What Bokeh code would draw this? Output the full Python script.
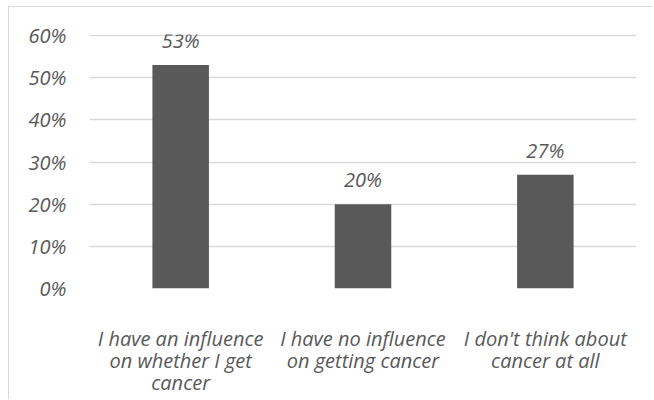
from bokeh.plotting import figure
from bokeh.models import NumeralTickFormatter, FixedTicker, Range1d, FactorRange, ColumnDataSource, LabelSet
from bokeh.core.properties import value
from bokeh.embed import file_html
from bokeh.resources import INLINE

# ---- data ----
categories = [
    "I have an influence\non whether I get\ncancer",
    "I have no influence\non getting cancer",
    "I don't think about\ncancer at all",
]
shares = [0.53, 0.20, 0.27]
share_labels = ["53%", "20%", "27%"]
y_ticks = [0.0, 0.1, 0.2, 0.3, 0.4, 0.5, 0.6]

FONT = "Open Sans"
TEXT_COLOR = "#595959"
GRID_COLOR = "#d9d9d9"
BAR_COLOR = "#595959"
FS = "20px"

source = ColumnDataSource(dict(cat=categories, share=shares, label=share_labels))

p = figure(width=645, height=393, x_range=FactorRange(*categories), y_range=Range1d(0, 0.6025),
           output_backend="svg", toolbar_location=None, tools="")
p.min_border_left = 80
p.min_border_right = 18
p.min_border_top = 27
p.min_border_bottom = 112
p.outline_line_color = None
p.background_fill_color = "white"
p.border_fill_color = "white"
p.styles = {"margin-left": "8px", "margin-top": "6px",
            "border-left": f"1px solid {GRID_COLOR}", "border-top": f"1px solid {GRID_COLOR}"}

p.vbar(x="cat", top="share", width=0.31, source=source, fill_color=BAR_COLOR, line_color=None)

# y axis
p.yaxis.ticker = FixedTicker(ticks=y_ticks)
p.yaxis.formatter = NumeralTickFormatter(format="0%")
p.yaxis.axis_line_color = None
p.yaxis.major_tick_line_color = None
p.yaxis.minor_tick_line_color = None
p.yaxis.major_tick_out = 0
p.yaxis.major_tick_in = 0
p.yaxis.major_label_standoff = 23
p.yaxis.major_label_text_font = FONT
p.yaxis.major_label_text_font_style = "italic"
p.yaxis.major_label_text_font_size = FS
p.yaxis.major_label_text_color = TEXT_COLOR

# x axis with wrapped category labels
p.xaxis.axis_line_color = None
p.xaxis.major_tick_line_color = None
p.xaxis.minor_tick_line_color = None
p.xaxis.major_tick_out = 0
p.xaxis.major_tick_in = 0
p.xaxis.major_label_standoff = 36
p.xaxis.major_label_text_font = FONT
p.xaxis.major_label_text_font_style = "italic"
p.xaxis.major_label_text_font_size = FS
p.xaxis.major_label_text_color = TEXT_COLOR
p.xaxis.major_label_text_line_height = 0.83

p.ygrid.grid_line_color = GRID_COLOR
p.ygrid.grid_line_width = 1.3
p.xgrid.grid_line_color = None

val_labels = LabelSet(x="cat", y="share", text="label", source=source,
                      text_align="center", text_baseline="alphabetic", y_offset=17,
                      text_font=value(FONT), text_font_style="italic",
                      text_font_size=FS, text_color=TEXT_COLOR)
p.add_layout(val_labels)

open("out.html", "w").write(file_html(p, INLINE))
